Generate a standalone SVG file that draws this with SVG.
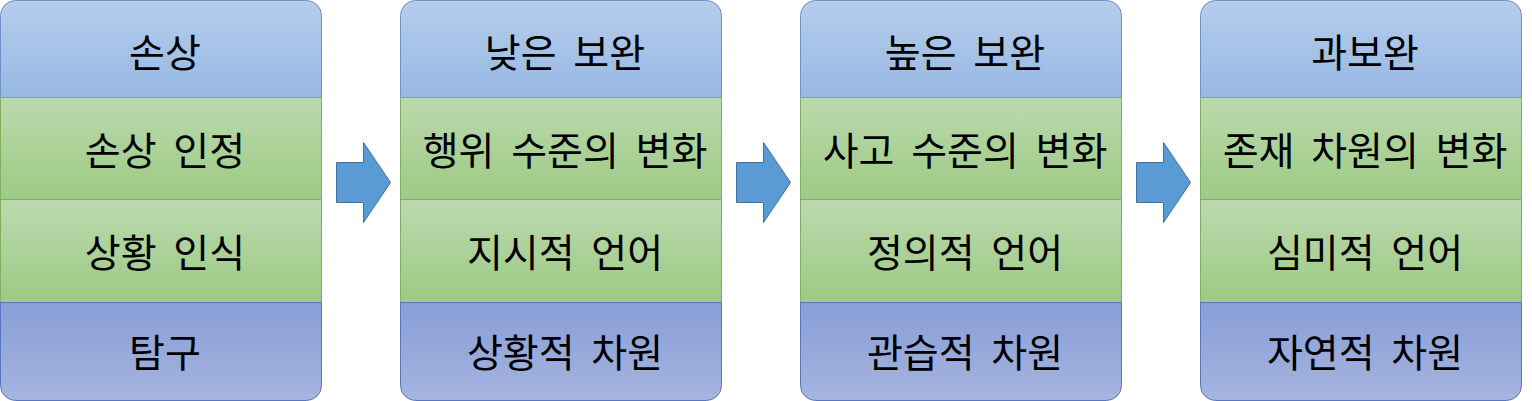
<svg xmlns="http://www.w3.org/2000/svg" width="1532" height="401" viewBox="0 0 1532 401">
<style>
.t{font-family:"Noto Sans CJK KR","Noto Sans",sans-serif;font-size:39px;word-spacing:8px;fill:#000;text-anchor:middle}
.top{fill:url(#gTop);stroke:#6d92c7;stroke-width:1}
.mid{fill:url(#gMid);stroke:#7eb062;stroke-width:1}
.bot{fill:url(#gBot);stroke:#5876bf;stroke-width:1}
.arr{fill:#5b9bd5;stroke:#41719c;stroke-width:1}
</style>
<defs>
<linearGradient id="gTop" x1="0" y1="0" x2="0" y2="1"><stop offset="0" stop-color="#b5cdeb"/><stop offset="1" stop-color="#97b8e3"/></linearGradient>
<linearGradient id="gMid" x1="0" y1="0" x2="0" y2="1"><stop offset="0" stop-color="#bcd9ae"/><stop offset="1" stop-color="#9dca84"/></linearGradient>
<linearGradient id="gBot" x1="0" y1="0" x2="0" y2="1"><stop offset="0" stop-color="#889ed7"/><stop offset="1" stop-color="#a6b4de"/></linearGradient>
</defs>
<g id="col1">
<path class="top" d="M0.5,97.5 V15.5 A15,15 0 0 1 15.5,0.5 H306.5 A15,15 0 0 1 321.5,15.5 V97.5 Z"/>
<rect class="mid" x="0.5" y="97.5" width="321" height="102"/>
<rect class="mid" x="0.5" y="199.5" width="321" height="103"/>
<path class="bot" d="M0.5,302.5 H321.5 V385.5 A15,15 0 0 1 306.5,400.5 H15.5 A15,15 0 0 1 0.5,385.5 Z"/>
<text class="t" x="165" y="67">손상</text>
<text class="t" x="165" y="165">손상 인정</text>
<text class="t" x="165" y="267">상황 인식</text>
<text class="t" x="165" y="367">탐구</text>
</g>
<g id="col2">
<path class="top" d="M400.5,97.5 V15.5 A15,15 0 0 1 415.5,0.5 H706.5 A15,15 0 0 1 721.5,15.5 V97.5 Z"/>
<rect class="mid" x="400.5" y="97.5" width="321" height="102"/>
<rect class="mid" x="400.5" y="199.5" width="321" height="103"/>
<path class="bot" d="M400.5,302.5 H721.5 V385.5 A15,15 0 0 1 706.5,400.5 H415.5 A15,15 0 0 1 400.5,385.5 Z"/>
<text class="t" x="565" y="67">낮은 보완</text>
<text class="t" x="565" y="165">행위 수준의 변화</text>
<text class="t" x="565" y="267">지시적 언어</text>
<text class="t" x="565" y="367">상황적 차원</text>
</g>
<g id="col3">
<path class="top" d="M800.5,97.5 V15.5 A15,15 0 0 1 815.5,0.5 H1106.5 A15,15 0 0 1 1121.5,15.5 V97.5 Z"/>
<rect class="mid" x="800.5" y="97.5" width="321" height="102"/>
<rect class="mid" x="800.5" y="199.5" width="321" height="103"/>
<path class="bot" d="M800.5,302.5 H1121.5 V385.5 A15,15 0 0 1 1106.5,400.5 H815.5 A15,15 0 0 1 800.5,385.5 Z"/>
<text class="t" x="965" y="67">높은 보완</text>
<text class="t" x="965" y="165">사고 수준의 변화</text>
<text class="t" x="965" y="267">정의적 언어</text>
<text class="t" x="965" y="367">관습적 차원</text>
</g>
<g id="col4">
<path class="top" d="M1200.5,97.5 V15.5 A15,15 0 0 1 1215.5,0.5 H1506.5 A15,15 0 0 1 1521.5,15.5 V97.5 Z"/>
<rect class="mid" x="1200.5" y="97.5" width="321" height="102"/>
<rect class="mid" x="1200.5" y="199.5" width="321" height="103"/>
<path class="bot" d="M1200.5,302.5 H1521.5 V385.5 A15,15 0 0 1 1506.5,400.5 H1215.5 A15,15 0 0 1 1200.5,385.5 Z"/>
<text class="t" x="1365" y="67">과보완</text>
<text class="t" x="1365" y="165">존재 차원의 변화</text>
<text class="t" x="1365" y="267">심미적 언어</text>
<text class="t" x="1365" y="367">자연적 차원</text>
</g>
<g id="connectors">
<path class="arr" d="M336.5,162.5 H363.5 V142.5 L390.5,182.5 L363.5,222.5 V202.5 H336.5 Z"/>
<path class="arr" d="M736.5,162.5 H763.5 V142.5 L790.5,182.5 L763.5,222.5 V202.5 H736.5 Z"/>
<path class="arr" d="M1136.5,162.5 H1163.5 V142.5 L1190.5,182.5 L1163.5,222.5 V202.5 H1136.5 Z"/>
</g>
</svg>
